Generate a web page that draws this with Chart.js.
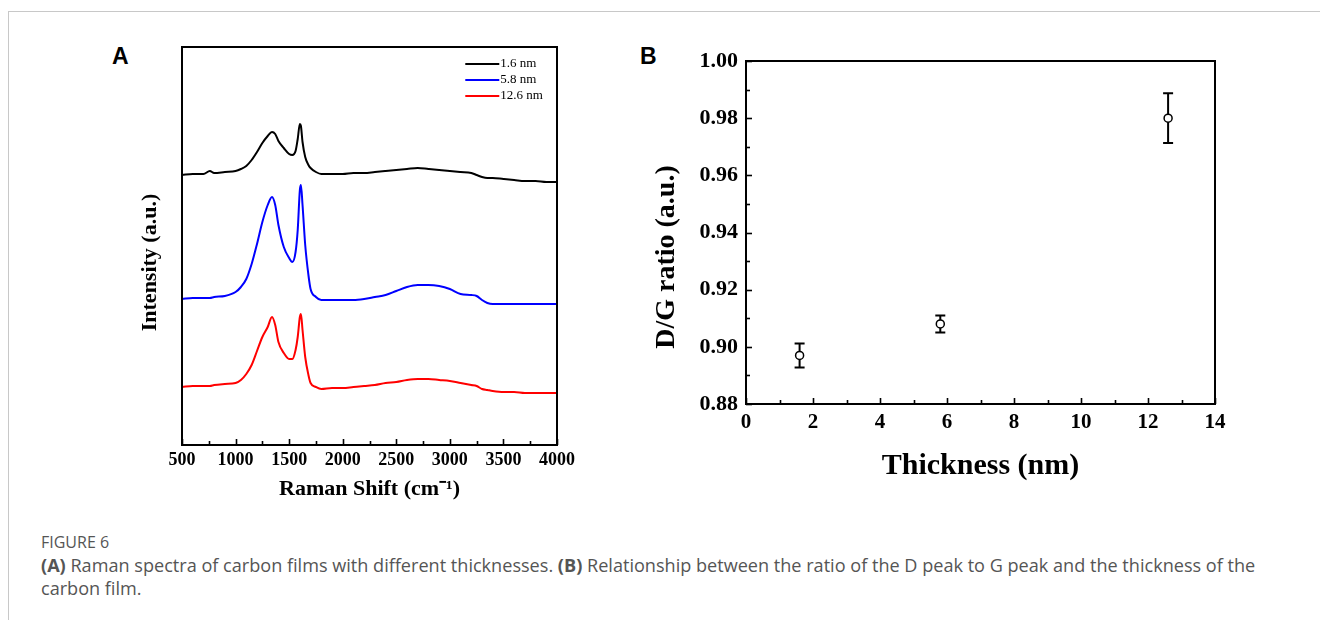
<!DOCTYPE html>
<html>
<head>
<meta charset="utf-8">
<script src="https://cdn.jsdelivr.net/npm/chart.js@4.4.1/dist/chart.umd.min.js"></script>
<style>
  html, body { margin: 0; padding: 0; background: #fff; }
  body { width: 1320px; height: 620px; position: relative; overflow: hidden; }
  canvas { position: absolute; }
  .frame-top { position: absolute; left: 8px; top: 11px; width: 1312px; height: 1px; background: #c8c8c8; }
  .frame-left { position: absolute; left: 8px; top: 11px; width: 1px; height: 609px; background: #c8c8c8; }
  .panel { position: absolute; font: bold 23px "Liberation Sans", Arial, sans-serif; color: #000; }
  .cap { position: absolute; left: 41px; font-family: "Open Sans", "Noto Sans", sans-serif; color: #555; line-height: 23px; white-space: nowrap; }
</style>
</head>
<body>
<div class="frame-top"></div>
<div class="frame-left"></div>
<div class="panel" style="left:112px;top:43px;">A</div>
<div class="panel" style="left:640px;top:43px;">B</div>
<canvas id="cA" width="480" height="520" style="left:100px;top:0px;"></canvas>
<canvas id="cB" width="620" height="500" style="left:630px;top:0px;"></canvas>
<div class="cap" style="top:531px;font-size:16px;">FIGURE 6</div>
<div class="cap" style="top:554px;font-size:18.1px;"><b>(A)</b> Raman spectra of carbon films with different thicknesses. <b>(B)</b> Relationship between the ratio of the D peak to G peak and the thickness of the<br>carbon film.</div>
<script>
// ---------- Panel A data ----------
const ramanShift = [500,600,700,760,800,900,1000,1050,1100,1150,1200,1250,1300,1340,1370,1400,1450,1500,1530,1560,1580,1600,1610,1625,1650,1680,1700,1750,1800,1900,2000,2100,2200,2300,2400,2500,2600,2700,2800,2900,3000,3100,3200,3250,3300,3350,3400,3500,3600,3700,3800,3900,4000];
const intensity16 = [270,271,271,274,272,273,274,276,279,285,293,302,309,313,311,304,297,291,290,294,306,321,319,303,288,280,277,273,271,271,271,272,272,273,274,275,276,277,276,275,274,273,272,270,268,267,267,266,265,264,264,263,263];
const intensity58 = [146,147,147,147,148,149,153,158,166,181,201,223,240,248,240,220,198,187,183,193,215,255,260,240,200,170,156,148,145,145,145,145,146,148,150,154,158,160,160,159,156,151,150,149,145,142,141,141,141,141,141,141,141];
const intensity126 = [58,59,59,59,60,61,62,65,71,80,94,108,118,128,120,103,92,86,86,95,108,128,131,115,88,70,62,58,56,57,57,58,59,60,62,63,65,66,66,65,64,62,60,59,56,55,54,53,53,52,52,52,52];
const seriesLabels = ['1.6 nm', '5.8 nm', '12.6 nm'];
const seriesColors = ['#000000', '#0000ff', '#ff0000'];

// ---------- Panel B data ----------
const thickness = [1.6, 5.8, 12.6];
const dgRatio = [0.897, 0.908, 0.980];
const dgError = [0.0042, 0.0030, 0.0087];

const serif = '"Liberation Serif", "Times New Roman", serif';
const NB = '\u00A0';

// frame + inward ticks plugin
const frameTicks = {
  id: 'frameTicks',
  afterDraw(chart, args, opts) {
    const ctx = chart.ctx, a = chart.chartArea;
    ctx.save();
    ctx.strokeStyle = '#000';
    ctx.lineWidth = 2;
    ctx.strokeRect(a.left, a.top, a.right - a.left, a.bottom - a.top);
    ctx.lineWidth = 1.6;
    const drawAxis = (scale, horizontal) => {
      const t = scale.ticks.map(k => k.value);
      const vals = [];
      for (let i = 0; i < t.length; i++) {
        vals.push([t[i], 6]);
        if (i < t.length - 1) vals.push([(t[i] + t[i + 1]) / 2, 4]);
      }
      vals.forEach(([v, len]) => {
        const p = Math.round(scale.getPixelForValue(v)) + 0.5;
        ctx.beginPath();
        if (horizontal) { ctx.moveTo(p, a.bottom); ctx.lineTo(p, a.bottom - len); }
        else { ctx.moveTo(a.left, p); ctx.lineTo(a.left + len, p); }
        ctx.stroke();
      });
    };
    if (opts.x) drawAxis(chart.scales.x, true);
    if (opts.y) drawAxis(chart.scales.y, false);
    ctx.restore();
  }
};

// legend inside panel A
const innerLegend = {
  id: 'innerLegend',
  afterDraw(chart) {
    const ctx = chart.ctx;
    const x0 = chart.scales.x.getPixelForValue(3144);
    ctx.save();
    ctx.font = '13px ' + serif;
    ctx.textBaseline = 'middle';
    chart.data.datasets.forEach((ds, i) => {
      const y = chart.chartArea.top + 17 + i * 16;
      ctx.strokeStyle = ds.borderColor;
      ctx.lineWidth = 2;
      ctx.beginPath(); ctx.moveTo(x0, y); ctx.lineTo(x0 + 34, y); ctx.stroke();
      ctx.fillStyle = '#000';
      ctx.fillText(ds.label, x0 + 35, y);
    });
    ctx.restore();
  }
};

// error bars for panel B
const errorBars = {
  id: 'errorBars',
  beforeDatasetsDraw(chart) {
    const ctx = chart.ctx, xs = chart.scales.x, ys = chart.scales.y;
    ctx.save();
    ctx.strokeStyle = '#000';
    ctx.lineWidth = 2;
    thickness.forEach((t, i) => {
      const x = xs.getPixelForValue(t);
      const yt = ys.getPixelForValue(dgRatio[i] + dgError[i]);
      const yb = ys.getPixelForValue(dgRatio[i] - dgError[i]);
      ctx.beginPath();
      ctx.moveTo(x, yt); ctx.lineTo(x, yb);
      ctx.moveTo(x - 5, yt); ctx.lineTo(x + 5, yt);
      ctx.moveTo(x - 5, yb); ctx.lineTo(x + 5, yb);
      ctx.stroke();
    });
    ctx.restore();
  }
};

const mk = (ys) => ramanShift.map((x, i) => ({ x, y: ys[i] }));

new Chart(document.getElementById('cA'), {
  type: 'line',
  data: {
    datasets: [intensity16, intensity58, intensity126].map((s, i) => ({
      label: seriesLabels[i],
      data: mk(s),
      borderColor: seriesColors[i],
      borderWidth: 2,
      pointRadius: 0,
      cubicInterpolationMode: 'monotone',
      fill: false
    }))
  },
  options: {
    responsive: false, animation: false, devicePixelRatio: 1,
    layout: { padding: { top: 47, right: 22, left: 0, bottom: 0 } },
    plugins: { legend: { display: false }, tooltip: { enabled: false }, frameTicks: { x: true, y: false } },
    scales: {
      x: {
        type: 'linear', min: 500, max: 4000,
        afterFit: s => { s.height = 75; },
        grid: { display: false, drawTicks: false },
        border: { display: false },
        ticks: { stepSize: 500, autoSkip: false, maxRotation: 0, padding: 5, color: '#000', font: { family: serif, size: 18, weight: 'bold' }, callback: v => String(v) },
        title: { display: true, text: 'Raman Shift (cm\u207B\u00B9)', color: '#000', padding: { top: 0, bottom: 17 }, font: { family: serif, size: 22, weight: 'bold' } }
      },
      y: {
        min: 0, max: 398,
        afterFit: s => { s.width = 82; },
        grid: { display: false, drawTicks: false },
        border: { display: false },
        ticks: { display: false },
        title: { display: true, text: 'Intensity (a.u.)' + NB.repeat(6), color: '#000', padding: { top: 37, bottom: 0 }, font: { family: serif, size: 22, weight: 'bold' } }
      }
    }
  },
  plugins: [frameTicks, innerLegend]
});

new Chart(document.getElementById('cB'), {
  type: 'scatter',
  data: {
    datasets: [{
      label: 'D/G ratio',
      data: thickness.map((t, i) => ({ x: t, y: dgRatio[i] })),
      pointRadius: 4,
      pointBackgroundColor: '#fff',
      pointBorderColor: '#000',
      pointBorderWidth: 1.5
    }]
  },
  options: {
    responsive: false, animation: false, devicePixelRatio: 1,
    layout: { padding: { top: 61, right: 35, left: 0, bottom: 0 } },
    plugins: { legend: { display: false }, tooltip: { enabled: false }, frameTicks: { x: true, y: true } },
    scales: {
      x: {
        type: 'linear', min: 0, max: 14,
        afterFit: s => { s.height = 96; },
        grid: { display: false, drawTicks: false },
        border: { display: false },
        ticks: { stepSize: 2, autoSkip: false, maxRotation: 0, padding: 6, color: '#000', font: { family: serif, size: 21, weight: 'bold' } },
        title: { display: true, text: 'Thickness (nm)', color: '#000', padding: { top: 0, bottom: 16 }, font: { family: serif, size: 30, weight: 'bold' } }
      },
      y: {
        min: 0.88, max: 1.00,
        afterFit: s => { s.width = 116; },
        grid: { display: false, drawTicks: false },
        border: { display: false },
        ticks: { stepSize: 0.02, padding: 8, color: '#000', font: { family: serif, size: 22, weight: 'bold' }, callback: v => v.toFixed(2) },
        title: { display: true, text: 'D/G ratio (a.u.)' + NB.repeat(7), color: '#000', padding: { top: 20, bottom: 0 }, font: { family: serif, size: 28, weight: 'bold' } }
      }
    }
  },
  plugins: [frameTicks, errorBars]
});
</script>
</body>
</html>
